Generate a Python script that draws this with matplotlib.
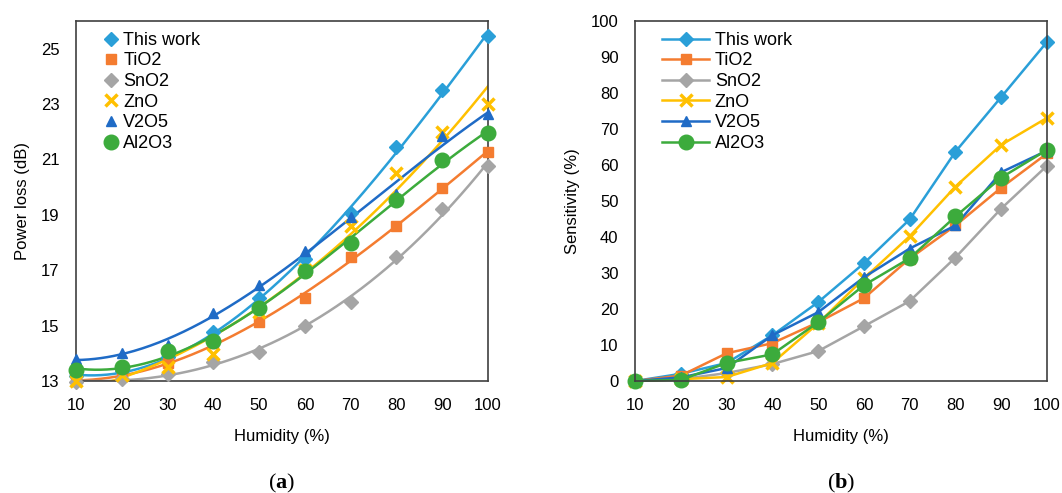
import numpy as np
import matplotlib
matplotlib.use("Agg")
import matplotlib.pyplot as plt

plt.rcParams['font.family'] = ['Liberation Sans', 'DejaVu Sans']
plt.rcParams['mathtext.fontset'] = 'custom'
plt.rcParams['mathtext.rm'] = 'Liberation Serif'
plt.rcParams['mathtext.bf'] = 'Liberation Serif:bold'

# Humidity levels (%)
humidity = [10, 20, 30, 40, 50, 60, 70, 80, 90, 100]

# (a) power loss (dB)
loss_this = [13.18, 13.35, 13.85, 14.76, 15.98, 17.42, 19.05, 21.45, 23.5, 25.47]
loss_tio2 = [13.0, 13.2, 13.65, 14.37, 15.12, 15.98, 17.49, 18.6, 19.97, 21.28]
loss_sno2 = [12.96, 13.07, 13.25, 13.68, 14.04, 14.98, 15.87, 17.49, 19.2, 20.76]
loss_zno = [13.0, 13.2, 13.5, 13.97, 15.5, 17.0, 18.6, 20.5, 21.98, 22.99]
loss_v2o5 = [13.79, 14.0, 14.3, 15.45, 16.45, 17.71, 18.93, 19.76, 21.84, 22.63]
loss_al2o3 = [13.4, 13.5, 14.08, 14.45, 15.62, 16.99, 17.99, 19.55, 20.98, 21.95]

# (b) sensitivity (%)
sens_this = [0, 2.0, 5.0, 12.7, 21.9, 32.7, 44.9, 63.7, 78.9, 94.2]
sens_tio2 = [0, 1.5, 7.7, 10.5, 16.3, 23.0, 34.0, 43.2, 53.7, 63.2]
sens_sno2 = [0, 0.5, 2.2, 4.7, 8.3, 15.2, 22.2, 34.3, 47.9, 59.8]
sens_zno = [0, 0.5, 1.1, 5.0, 16.0, 28.5, 40.2, 54.0, 65.6, 73.1]
sens_v2o5 = [0, 1.0, 3.6, 12.7, 19.1, 28.8, 36.8, 43.2, 58.0, 64.0]
sens_al2o3 = [0, 0.3, 5.0, 7.4, 16.3, 26.6, 34.1, 45.7, 56.5, 64.2]

labels = ['This work', 'TiO2', 'SnO2', 'ZnO', 'V2O5', 'Al2O3']
colors = ['#2A9FD8', '#F47C30', '#A5A5A5', '#FFC000', '#1F6BC6', '#3CAB3C']
markers = ['D', 's', 'D', 'x', '^', 'o']
msizes = [7, 7, 7, 8, 7.5, 10.5]
trend_order = [3, 3, 3, 2, 3, 3]   # polynomial trendline order per series

loss = [loss_this, loss_tio2, loss_sno2, loss_zno, loss_v2o5, loss_al2o3]
sens = [sens_this, sens_tio2, sens_sno2, sens_zno, sens_v2o5, sens_al2o3]

fig = plt.figure(figsize=(10.62, 4.93), dpi=100)
ax1 = fig.add_axes([0.0716, 0.2272, 0.3879, 0.7302])
ax2 = fig.add_axes([0.598, 0.2272, 0.3879, 0.7302])

# (a) markers + polynomial trendlines
xf = np.linspace(10, 100, 200)
for y, c, m, ms, lab, deg in zip(loss, colors, markers, msizes, labels, trend_order):
    coef = np.polyfit(humidity, y, deg)
    ax1.plot(xf, np.polyval(coef, xf), color=c, lw=1.8, zorder=2)
    ax1.plot(humidity, y, linestyle='none', marker=m, color=c, ms=ms,
             mew=2.5 if m == 'x' else 1, label=lab, clip_on=False, zorder=3)

ax1.set_xlim(10, 100)
ax1.set_ylim(13, 26)
ax1.set_yticks([13, 15, 17, 19, 21, 23, 25])
ax1.set_ylabel('Power loss (dB)', fontsize=12, labelpad=8)
ax1.legend(loc='upper left', bbox_to_anchor=(0.04, 1.0), frameon=False, fontsize=13,
           handlelength=0.8, handletextpad=0.3, labelspacing=0.2, borderaxespad=0.2)

# (b) lines with markers
for y, c, m, ms, lab in zip(sens, colors, markers, msizes, labels):
    ax2.plot(humidity, y, color=c, lw=1.8, marker=m, ms=ms,
             mew=2.5 if m == 'x' else 1, label=lab, clip_on=False)

ax2.set_xlim(10, 100)
ax2.set_ylim(0, 100)
ax2.set_yticks(range(0, 101, 10))
ax2.set_ylabel('Sensitivity (%)', fontsize=12, labelpad=8)
ax2.legend(loc='upper left', bbox_to_anchor=(0.04, 1.0), frameon=False, fontsize=13,
           handlelength=2.6, handletextpad=0.3, labelspacing=0.2, borderaxespad=0.2)

for ax, tag in [(ax1, 'a'), (ax2, 'b')]:
    ax.set_xticks(humidity)
    ax.set_xlabel('Humidity (%)', fontsize=12, labelpad=12)
    ax.tick_params(length=0, labelsize=12, pad=12)
    for s in ax.spines.values():
        s.set_color('#404040')
        s.set_linewidth(1.2)
    ax.text(0.5, -0.285, r'$\mathrm{(}\mathbf{%s}\mathrm{)}$' % tag, transform=ax.transAxes,
            ha='center', va='center', fontsize=16)

fig.savefig('out.png', dpi=100)
